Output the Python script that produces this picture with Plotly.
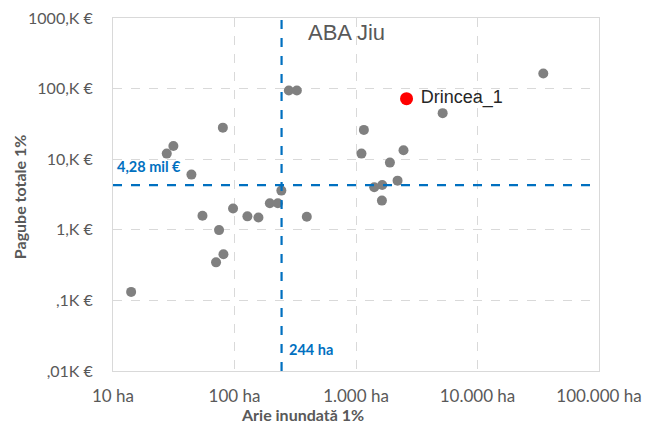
import math
import plotly.graph_objects as go

# Arie inundată 1% (ha) si pagube totale 1% (€) pentru bazinul Jiu
arie_ha = [14.1, 54.5, 74.6, 81.1, 70.5, 97.3, 127.7, 157.4, 195.4, 227.5,
           393.6, 243, 280, 326, 80.2, 31.4, 27.7, 44.2,
           34800, 5166, 1161, 1109, 2460, 1901, 2198, 1413, 1644, 1634]
pagube_eur = [132, 1580, 990, 450, 346, 2000, 1550, 1490, 2380, 2380,
              1530, 3590, 94000, 94000, 28000, 15400, 12000, 6050,
              164000, 44900, 26000, 12000, 13400, 8950, 4970, 4000, 4320, 2590]

evid_nume = ["Drincea_1"]
evid_arie = [2606]
evid_pagube = [72000]

prag_arie = 244
prag_pagube = 4280

x_ticks = [10, 100, 1000, 10000, 100000]
x_labels = ["10 ha", "100 ha", "1.000 ha", "10.000 ha", "100.000 ha"]
y_ticks = [10, 100, 1000, 10000, 100000, 1000000]
y_labels = [",01K €", ",1K €", "1,K €", "10,K €", "100,K €", "1000,K €"]

GRI = "#595959"
ALBASTRU = "#0070C0"
FONT = "Lato, 'Liberation Sans', Arial, sans-serif"
ARIAL = "'Liberation Sans', Arial, sans-serif"

fig = go.Figure()

fig.add_trace(go.Scatter(
    x=arie_ha, y=pagube_eur, mode="markers",
    marker=dict(size=10, color="#808080"),
    showlegend=False, hoverinfo="x+y"
))

fig.add_trace(go.Scatter(
    x=evid_arie, y=evid_pagube, mode="markers+text",
    text=[" " + n for n in evid_nume], textposition="middle right",
    textfont=dict(family=ARIAL, size=18, color="#262626"),
    marker=dict(size=13, color="#FF0000"),
    showlegend=False
))

# linii de prag
fig.add_vline(x=prag_arie, line_dash="dash", line_color=ALBASTRU, line_width=2.2)
fig.add_hline(y=prag_pagube, line_dash="dash", line_color=ALBASTRU, line_width=2.2)

# pe axe log, adnotarile primesc log10 din valoare
fig.add_annotation(
    x=0, xref="paper", y=math.log10(prag_pagube), yref="y", yshift=19,
    text="<b>4,28 mil €</b>", showarrow=False, xanchor="left", xshift=2,
    font=dict(family=FONT, size=14.5, color=ALBASTRU)
)
fig.add_annotation(
    x=math.log10(prag_arie), xref="x", y=0, yref="paper", yshift=11,
    text="<b>244 ha</b>", showarrow=False, xanchor="left", xshift=5,
    font=dict(family=FONT, size=14.5, color=ALBASTRU)
)

fig.add_annotation(
    x=0.398, xref="paper", y=0.96, yref="paper",
    text="ABA Jiu", showarrow=False, xanchor="left", yanchor="middle",
    font=dict(family=ARIAL, size=22, color=GRI)
)

# titluri axe (pozitionate ca in Excel)
fig.add_annotation(
    x=0.39, xref="paper", y=-0.122, yref="paper",
    text="<b>Arie inundată 1%</b>", showarrow=False, yanchor="middle",
    font=dict(family=FONT, size=16, color=GRI)
)
fig.add_annotation(
    x=-0.191, xref="paper", y=0.493, yref="paper", textangle=-90,
    text="<b>Pagube totale 1%</b>", showarrow=False, xanchor="center",
    font=dict(family=FONT, size=16, color=GRI)
)

fig.update_xaxes(
    type="log", range=[1, 5], automargin=False,
    tickvals=x_ticks, ticktext=x_labels, ticklabeloverflow="allow",
    tickfont=dict(family=FONT, size=17, color=GRI),
    showgrid=True, gridcolor="#d9d9d9", griddash="dash",
    showline=True, linecolor="#d9d9d9", mirror=True, zeroline=False,
    ticks="outside", ticklen=10, tickcolor="rgba(0,0,0,0)"
)
fig.update_yaxes(
    type="log", range=[1, 6], automargin=False,
    tickvals=y_ticks, ticktext=y_labels, ticklabeloverflow="allow",
    tickfont=dict(family=FONT, size=16, color=GRI),
    showgrid=True, gridcolor="#d9d9d9", griddash="dash",
    showline=True, linecolor="#d9d9d9", mirror=True, zeroline=False,
    ticks="outside", ticklen=16, tickcolor="rgba(0,0,0,0)"
)

fig.update_layout(
    width=645, height=423,
    margin=dict(l=113, r=46, t=18, b=52),
    plot_bgcolor="white", paper_bgcolor="white",
    showlegend=False
)

# fara marginea implicita a paginii, figura incepe din colt
fig.write_html(
    "out.html",
    config={"displayModeBar": False},
    post_script="document.body.style.margin='0';document.body.style.overflow='hidden';"
)
